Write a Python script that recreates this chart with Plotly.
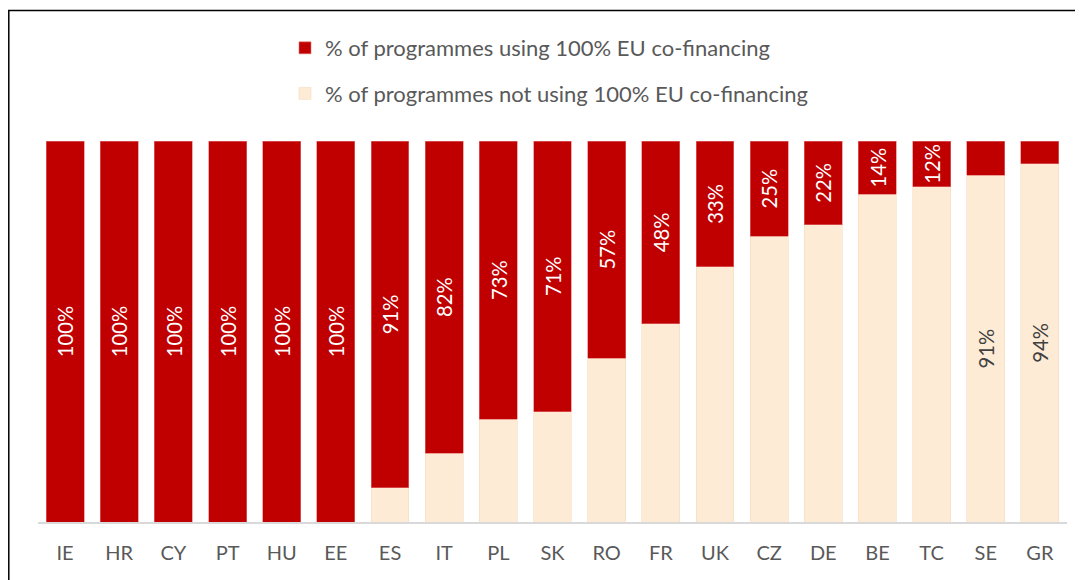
import plotly.graph_objects as go

countries = ['IE', 'HR', 'CY', 'PT', 'HU', 'EE', 'ES', 'IT', 'PL', 'SK',
             'RO', 'FR', 'UK', 'CZ', 'DE', 'BE', 'TC', 'SE', 'GR']
using_100 = [100, 100, 100, 100, 100, 100, 91, 82, 73, 71, 57, 48, 33, 25, 22, 14, 12, 9, 6]
not_using = [0, 0, 0, 0, 0, 0, 9, 18, 27, 29, 43, 52, 67, 75, 78, 86, 88, 91, 94]

# labels shown in the original only where they fit
using_text = [f"{v}%" if v >= 12 else "" for v in using_100]
not_text = [f"{v}%" if v >= 90 else "" for v in not_using]

# page has an 8px body margin, so the figure is a bit smaller than the window
W, H = 1075, 572
L, R, T, B = 30, 16, 133, 58
pw = W - L - R
ph = H - T - B


def px_x(x):
    return (x - L) / pw


def px_y(y):
    return (H - B - y) / ph


fig = go.Figure()

fig.add_trace(go.Bar(
    x=countries, y=not_using,
    name='% of programmes not using 100% EU co-financing',
    legendgroup='b', legendrank=2,
    marker=dict(color='#FDEBD5', line=dict(width=0.6, color='#F6DCC0')),
    text=not_text, textposition='inside', insidetextanchor='middle',
    textangle=-90, textfont=dict(color='#404040', size=21),
    hoverinfo='x+y'))

fig.add_trace(go.Bar(
    x=countries, y=using_100,
    name='% of programmes using 100% EU co-financing',
    legendgroup='a', legendrank=1,
    marker=dict(color='#C00000', line=dict(width=0.6, color='#E57373')),
    text=using_text, textposition='inside', insidetextanchor='middle',
    textangle=-90, textfont=dict(color='white', size=21),
    hoverinfo='x+y'))

fig.update_layout(
    width=W, height=H,
    barmode='stack', bargap=0.3,
    plot_bgcolor='white', paper_bgcolor='white',
    font=dict(family='Lato, Open Sans, sans-serif', color='#595959'),
    margin=dict(l=L, r=R, t=T, b=B),
    uniformtext=dict(minsize=8, mode='show'),
    legend=dict(
        x=px_x(277), y=px_y(19),
        xanchor='left', yanchor='top',
        orientation='v', traceorder='grouped',
        tracegroupgap=14,
        font=dict(size=22, color='#595959'),
        bgcolor='rgba(0,0,0,0)'),
    shapes=[dict(
        type='rect', xref='paper', yref='paper',
        x0=px_x(0.8), x1=px_x(W + 20),
        y0=px_y(H + 20), y1=px_y(2.5),
        line=dict(color='black', width=1.5))],
)

fig.update_xaxes(
    showline=True, linecolor='#D9D9D9', linewidth=1.5,
    ticks='', ticklabelstandoff=12,
    tickfont=dict(size=20, color='#595959'),
    showgrid=False)

fig.update_yaxes(
    range=[0, 100], visible=False, showgrid=False)

fig.write_html("out.html")
